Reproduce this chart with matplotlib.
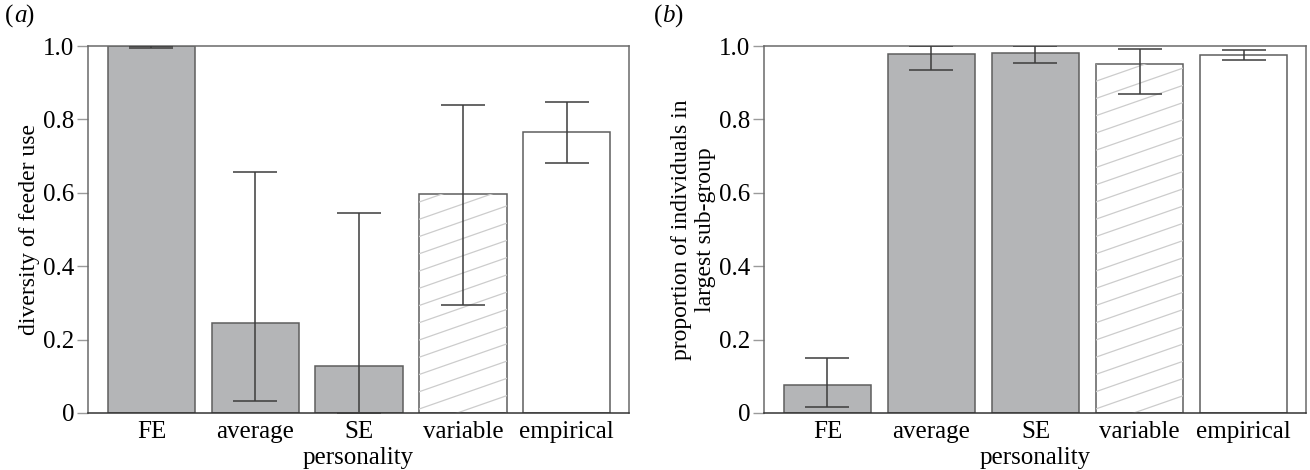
import matplotlib
matplotlib.use('Agg')
import matplotlib.pyplot as plt
import numpy as np

# data
categories = ['FE', 'average', 'SE', 'variable', 'empirical']

# (a) diversity of feeder use
div_mean = [1.0, 0.245, 0.127, 0.597, 0.765]
div_low = [0.995, 0.032, 0.0, 0.295, 0.680]
div_high = [1.0, 0.657, 0.545, 0.840, 0.848]

# (b) proportion of individuals in largest sub-group
prop_mean = [0.075, 0.977, 0.981, 0.950, 0.975]
prop_low = [0.015, 0.935, 0.953, 0.869, 0.962]
prop_high = [0.150, 1.0, 1.0, 0.993, 0.989]

plt.rcParams['font.family'] = ['Liberation Serif', 'DejaVu Serif']
plt.rcParams['font.size'] = 18

grey = '#b4b5b7'
edge = '#5e5e5e'
face = [grey, grey, grey, 'white', 'white']

# draw shallow diagonal hatch lines clipped to a bar
def hatchBar(ax, bar, color='#cccccc'):
	x0 = bar.get_x()
	w = bar.get_width()
	h = bar.get_height()
	rise = 0.083   # data y gained across bar width
	step = 0.047   # vertical gap between lines
	for y in np.arange(-rise, h + step, step):
		ln, = ax.plot([x0, x0 + w], [y, y + rise], color=color, lw=0.9, zorder=2.5)
		ln.set_clip_path(bar)

# one panel
def drawPanel(ax, means, lows, highs, ylabel):
	x = np.arange(len(categories))
	means = np.array(means)
	yerr = [means - np.array(lows), np.array(highs) - means]
	bars = ax.bar(x, means, width=0.84, color=face, edgecolor=edge, linewidth=1.1, zorder=2)
	hatchBar(ax, bars[3])
	ax.errorbar(x, means, yerr=yerr, fmt='none', ecolor='#3c3c3c', elinewidth=1.1,
		capsize=16, capthick=1.1, zorder=3)
	ax.set_xlim(-0.61, 4.6)
	ax.set_ylim(0, 1.0)
	ax.set_xticks(x)
	ax.set_xticklabels(categories)
	ax.set_yticks([0, 0.2, 0.4, 0.6, 0.8, 1.0])
	ax.set_yticklabels(['0', '0.2', '0.4', '0.6', '0.8', '1.0'])
	ax.tick_params(axis='x', length=0, pad=6)
	ax.tick_params(axis='y', length=8, width=1, color='#9a9a9a', pad=2)
	for s in ax.spines.values():
		s.set_color('#6a6a6a')
		s.set_linewidth(1.1)
	ax.spines['bottom'].set_color('#333333')
	ax.set_xlabel('personality', labelpad=3)
	ax.set_ylabel(ylabel, fontsize=17, labelpad=2)

fig = plt.figure(figsize=(13.1, 4.7), dpi=100)
ax1 = fig.add_axes([0.0672, 0.1213, 0.4130, 0.7808])
ax2 = fig.add_axes([0.5832, 0.1213, 0.4137, 0.7808])

drawPanel(ax1, div_mean, div_low, div_high, 'diversity of feeder use')
drawPanel(ax2, prop_mean, prop_low, prop_high,
	'proportion of individuals in\nlargest sub-group')

# panel labels
fig.text(0.004, 0.965, '(', ha='left', va='center')
fig.text(0.0105, 0.965, 'a', ha='left', va='center', style='italic')
fig.text(0.0195, 0.965, ')', ha='left', va='center')
fig.text(0.499, 0.965, '(', ha='left', va='center')
fig.text(0.5055, 0.965, 'b', ha='left', va='center', style='italic')
fig.text(0.5150, 0.965, ')', ha='left', va='center')

fig.savefig('out.png', dpi=100)
